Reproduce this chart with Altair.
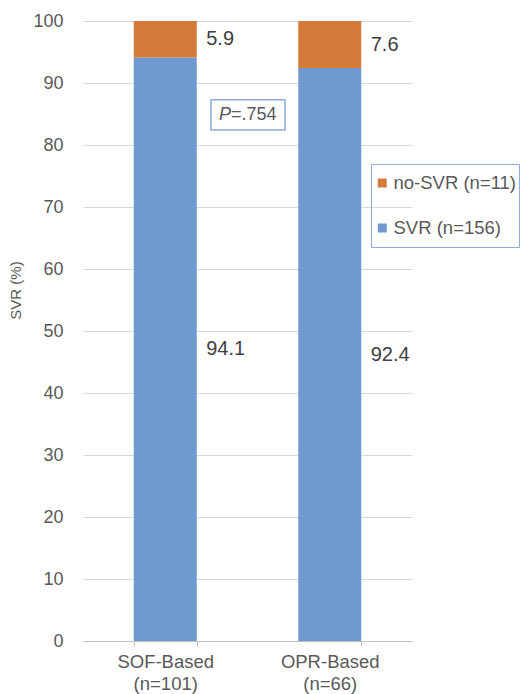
import altair as alt
import pandas as pd

groups = ["SOF-Based\n(n=101)", "OPR-Based\n(n=66)"]
svr = [94.1, 92.4]
nosvr = [5.9, 7.6]
series = ["no-SVR (n=11)", "SVR (n=156)"]
colors = ["#D57B3A", "#7099CF"]
p_text = ["P", "=.754"]
yticks = [0, 10, 20, 30, 40, 50, 60, 70, 80, 90, 100]

rows = []
for g, s, n in zip(groups, svr, nosvr):
    rows.append({"group": g, "series": series[1], "value": s, "ord": 0,
                 "mid": s / 2, "label": f"{s:.1f}"})
    rows.append({"group": g, "series": series[0], "value": n, "ord": 1,
                 "mid": s + n / 2, "label": f"{n:.1f}"})
df = pd.DataFrame(rows)

FONT = "Liberation Sans"
W, H = 329, 620

xscale = alt.Scale(domain=groups, paddingInner=0.617, paddingOuter=0.3085)
yscale = alt.Scale(domain=[0, 100], nice=False)

xaxis = alt.Axis(tickBand="extent", grid=False, gridOpacity=0, gridWidth=0,
                 labelExpr="split(datum.label, '\\n')")
yaxis = alt.Axis(values=yticks, domain=False, domainOpacity=0, ticks=False)

base = alt.Chart(df)

bars = base.mark_bar().encode(
    x=alt.X("group:N", scale=xscale, sort=groups, title=None, axis=xaxis),
    y=alt.Y("value:Q", scale=yscale, stack="zero", title="SVR (%)", axis=yaxis),
    color=alt.Color("series:N", scale=alt.Scale(domain=series, range=colors),
                    legend=alt.Legend(title=None, orient="none", legendX=288, legendY=143,
                                      strokeColor="#8FAADC", padding=2, rowPadding=11,
                                      clipHeight=34, labelOffset=2,
                                      symbolType="square", symbolSize=81,
                                      symbolStrokeWidth=0, labelFontSize=18.5,
                                      labelColor="#595959", labelFont=FONT)),
    order=alt.Order("ord:Q"),
)

labels = base.mark_text(align="left", baseline="middle", dx=41, fontSize=20,
                        color="#404040", font=FONT).encode(
    x=alt.X("group:N", scale=xscale, sort=groups, title=None, axis=xaxis),
    y=alt.Y("mid:Q", scale=yscale, title="SVR (%)", axis=yaxis),
    text="label:N",
)

pbox = alt.Chart(pd.DataFrame({"a": [0]})).mark_rect(
    fill="white", stroke="#8FAADC", strokeWidth=1.5).encode(
    x=alt.value(128), x2=alt.value(202),
    y=alt.datum(87.3), y2=alt.datum(82.4),
)
p1 = alt.Chart(pd.DataFrame({"t": [p_text[0]]})).mark_text(
    align="right", baseline="middle", fontSize=18, fontStyle="italic",
    color="#595959", font=FONT).encode(
    x=alt.value(148), y=alt.datum(84.84), text="t:N")
p2 = alt.Chart(pd.DataFrame({"t": [p_text[1]]})).mark_text(
    align="left", baseline="middle", fontSize=18,
    color="#595959", font=FONT).encode(
    x=alt.value(148), y=alt.datum(84.84), text="t:N")

chart = alt.layer(bars, labels, pbox, p1, p2).properties(
    width=W, height=H,
    autosize=alt.AutoSizeParams(type="none"),
    padding={"left": 83, "top": 21, "right": 110, "bottom": 53},
    view=alt.ViewBackground(stroke="transparent", strokeWidth=0, strokeOpacity=0),
).configure(font=FONT, background="white").configure_view(
    strokeWidth=0, stroke="transparent", strokeOpacity=0
).configure_axisX(
    grid=False, gridOpacity=0, gridWidth=0, domainColor="#BFBFBF", tickColor="#BFBFBF",
    tickSize=5, labelFontSize=18.5, labelColor="#595959", labelAngle=0, labelPadding=6,
    labelLineHeight=22, labelFont=FONT,
).configure_axisY(
    domain=False, ticks=False, tickSize=0, gridColor="#D9D9D9", labelFontSize=18,
    labelColor="#595959", labelPadding=20, labelFont=FONT,
    titleFont=FONT, titleFontSize=15, titleFontWeight="normal",
    titleColor="#595959", titleX=-60, titleY=269,
)

chart.save("out.html", embed_options={"renderer": "svg", "actions": False})
